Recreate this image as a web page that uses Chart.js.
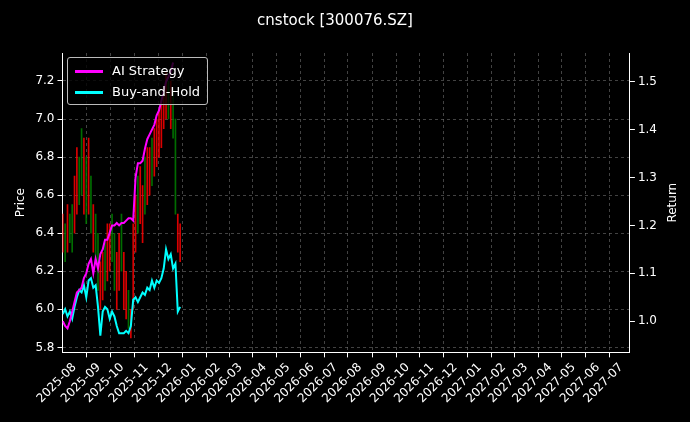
<!DOCTYPE html>
<html><head><meta charset="utf-8">
<script src="https://cdn.jsdelivr.net/npm/chart.js@4/dist/chart.umd.min.js"></script>
<style>
body{margin:0;background:#000;}
#wrap{position:relative;width:690px;height:422px;}
#legend{position:absolute;left:67px;top:57px;border:1px solid #bbb;border-radius:3px;background:rgba(0,0,0,0.8);padding:2px 7px;font:13px "DejaVu Sans";color:#fff;line-height:21px;}
#legend span.l{display:inline-block;width:28px;height:3px;margin-right:9px;vertical-align:middle;}
</style></head>
<body><div id="wrap"><canvas id="c" width="690" height="422"></canvas>
<div id="legend"><div><span class="l" style="background:#ff00ff"></span>AI Strategy</div><div><span class="l" style="background:#00ffff"></span>Buy-and-Hold</div></div></div>
<script>
// days counted from 2025-07-01
const days = [16,19,22,25,28,31,34,37,40,43,46,49,52,55,58,61,64,67,70,73,76,79,82,85,88,91,94,97,100,103,106,109,112,115,118,121,124,127,130,133,136,139,142,145,148,151,154,157,160,163,166];
const aiReturn = [1.00,0.99,0.985,1.0,1.02,1.04,1.06,1.065,1.07,1.09,1.10,1.12,1.13,1.10,1.13,1.11,1.14,1.15,1.17,1.17,1.185,1.20,1.20,1.205,1.20,1.205,1.205,1.21,1.215,1.215,1.21,1.30,1.33,1.33,1.335,1.36,1.38,1.39,1.40,1.41,1.43,1.44,1.46,1.48,1.50,1.51,1.52,1.54,null,null,null];
const bhReturn = [1.015,1.025,1.01,1.02,1.005,1.03,1.05,1.065,1.06,1.075,1.05,1.085,1.09,1.07,1.075,1.03,0.97,1.02,1.03,1.025,1.005,1.02,1.01,0.99,0.975,0.975,0.975,0.98,0.975,0.99,1.045,1.05,1.04,1.05,1.06,1.055,1.07,1.065,1.085,1.07,1.085,1.08,1.09,1.11,1.15,1.13,1.14,1.11,1.12,1.02,1.03];
const priceLow = [6.3,6.25,6.3,6.35,6.3,6.4,6.5,6.55,6.6,6.5,6.45,6.5,6.4,6.3,6.25,6.1,6.0,6.05,6.1,6.15,6.2,6.25,6.1,6.0,6.1,6.2,6.0,5.95,5.9,5.85,6.0,6.3,6.4,6.45,6.35,6.5,6.55,6.6,6.65,6.7,6.75,6.8,6.85,6.95,7.0,7.0,6.95,6.9,6.5,6.3,6.25];
const priceHigh = [6.5,6.45,6.55,6.5,6.55,6.7,6.85,6.8,6.95,6.9,6.8,6.9,6.7,6.55,6.5,6.4,6.25,6.3,6.35,6.45,6.45,6.5,6.4,6.3,6.4,6.5,6.3,6.2,6.1,6.0,6.45,6.6,6.7,6.75,6.65,6.8,6.85,6.85,6.9,6.95,7.0,7.05,7.1,7.15,7.25,7.2,7.2,7.15,7.0,6.5,6.45];
const upDay = [1,0,1,0,0,1,1,0,0,1,0,1,0,1,0,0,1,1,0,1,1,0,0,1,1,0,1,1,0,1,1,1,0,1,1,0,1,1,0,1,1,1,1,1,1,0,1,0,0,1,1];
const monthLabels = ['2025-08','2025-09','2025-10','2025-11','2025-12','2026-01','2026-02','2026-03','2026-04','2026-05','2026-06','2026-07','2026-08','2026-09','2026-10','2026-11','2026-12','2027-01','2027-02','2027-03','2027-04','2027-05','2027-06','2027-07'];

const base = Date.UTC(2025,6,1);
const monthDays = monthLabels.map(m => { const [y,mo] = m.split('-').map(Number); return Math.round((Date.UTC(y,mo-1,1)-base)/86400000); });

Chart.defaults.font.family = 'DejaVu Sans';
Chart.defaults.color = '#fff';
const gridCol = 'rgba(120,120,120,0.55)';

// matplotlib-style right axis label (reads bottom to top)
const returnLabel = {
  id:'returnLabel',
  afterDraw(chart){
    const a = chart.chartArea, ctx = chart.ctx;
    ctx.save();
    ctx.translate(673, (a.top+a.bottom)/2);
    ctx.rotate(-Math.PI/2);
    ctx.fillStyle = '#fff'; ctx.font = '12px "DejaVu Sans"';
    ctx.textAlign = 'center'; ctx.textBaseline = 'middle';
    ctx.fillText('Return', 0, 0);
    ctx.restore();
  }
};

new Chart(document.getElementById('c'), {
  type: 'bar',
  data: {
    datasets: [
      { type:'bar', label:'price', data: days.map((d,i)=>({x:d, y:[priceLow[i],priceHigh[i]]})), yAxisID:'y',
        backgroundColor: upDay.map(u => u ? 'rgba(255,0,0,0.85)' : 'rgba(0,128,0,0.85)'), barThickness: 1, order: 3 },
      { type:'line', label:'AI Strategy', data: days.map((d,i)=>({x:d, y:aiReturn[i]})), yAxisID:'y2',
        borderColor:'#ff00ff', borderWidth:2, pointRadius:0, order:1 },
      { type:'line', label:'Buy-and-Hold', data: days.map((d,i)=>({x:d, y:bhReturn[i]})), yAxisID:'y2',
        borderColor:'#00ffff', borderWidth:2, pointRadius:0, order:2 }
    ]
  },
  options: {
    responsive:false, animation:false,
    layout:{ padding:{ top:12, right:30, left:10, bottom:13 } },
    plugins:{
      legend:{ display:false }, tooltip:{ enabled:false },
      title:{ display:true, text:'cnstock [300076.SZ]', color:'#fff', font:{ size:15, weight:'normal' }, padding:{ top:0, bottom:23 } }
    },
    scales:{
      x:{ type:'linear', min:15.6, max:741, offset:false,
        afterBuildTicks: ax => { ax.ticks = monthDays.map(v => ({value:v})); },
        ticks:{ callback:(v,i)=>monthLabels[i], maxRotation:45, minRotation:45, autoSkip:false, font:{size:12}, color:'#fff' },
        grid:{ color:gridCol, drawTicks:true, tickColor:'#fff', tickLength:5 },
        border:{ color:'#fff', dash:[3,3] } },
      y:{ position:'left', min:5.774, max:7.347,
        afterBuildTicks: ax => { ax.ticks = [5.8,6.0,6.2,6.4,6.6,6.8,7.0,7.2].map(v=>({value:v})); },
        ticks:{ callback:v=>v.toFixed(1), font:{size:12}, color:'#fff' },
        title:{ display:true, text:'Price', font:{size:12}, color:'#fff' },
        grid:{ color:gridCol, tickColor:'#fff', tickLength:5 }, border:{ color:'#fff', dash:[3,3] } },
      y2:{ position:'right', min:0.935, max:1.560,
        afterBuildTicks: ax => { ax.ticks = [1.0,1.1,1.2,1.3,1.4,1.5].map(v=>({value:v})); },
        ticks:{ callback:v=>v.toFixed(1), font:{size:12}, color:'#fff' },
        grid:{ drawOnChartArea:false, tickColor:'#fff', tickLength:5 }, border:{ color:'#fff' } }
    }
  },
  plugins:[returnLabel]
});
</script></body></html>
